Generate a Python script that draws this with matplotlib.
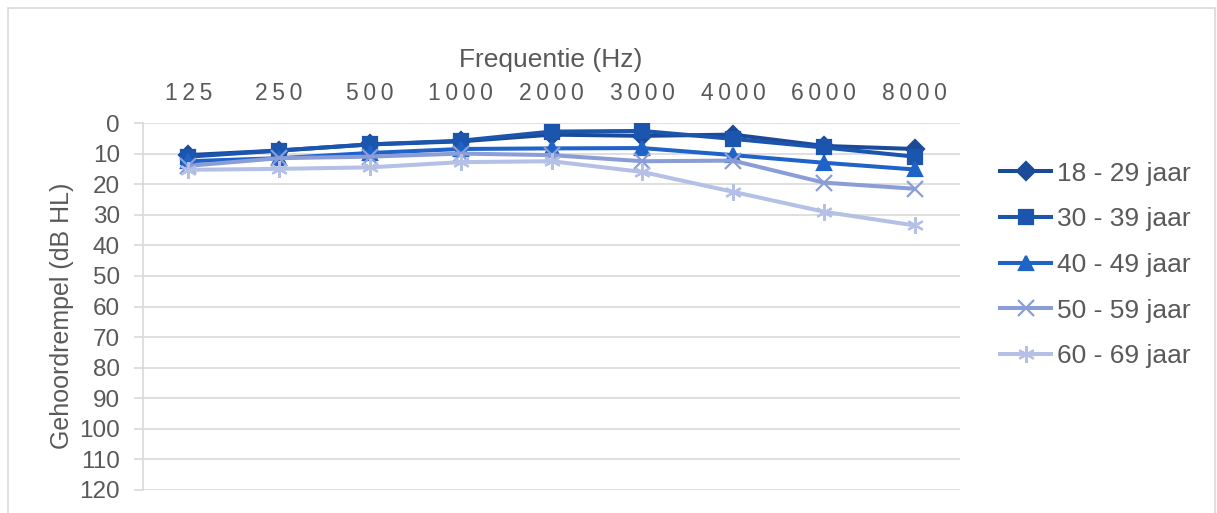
import numpy as np
import matplotlib
matplotlib.use('Agg')
import matplotlib.pyplot as plt
from matplotlib.patches import Rectangle

plt.rcParams['font.family'] = ['Liberation Sans', 'DejaVu Sans']

# Audiogram: mean hearing threshold per age group
frequencies = ['125', '250', '500', '1000', '2000', '3000', '4000', '6000', '8000']
age_groups = ['18 - 29 jaar', '30 - 39 jaar', '40 - 49 jaar', '50 - 59 jaar', '60 - 69 jaar']

thr_18_29 = [10.5, 9.0, 7.0, 6.0, 3.8, 4.2, 3.8, 7.5, 8.5]
thr_30_39 = [11.0, 9.0, 7.0, 5.8, 2.8, 2.6, 5.2, 8.0, 11.0]
thr_40_49 = [12.5, 11.5, 9.8, 8.5, 8.3, 8.2, 10.5, 13.0, 15.2]
thr_50_59 = [14.0, 11.5, 11.0, 10.0, 10.5, 12.5, 12.3, 19.5, 21.5]
thr_60_69 = [15.3, 15.0, 14.5, 12.8, 12.5, 16.0, 22.5, 29.0, 33.5]

series = [thr_18_29, thr_30_39, thr_40_49, thr_50_59, thr_60_69]
colors = ['#1a4a98', '#1c55ae', '#1f63c8', '#8a9dd6', '#b4c0e5']
markers = ['D', 's', '^', 'x', (6, 2, 0)]
msizes = [9.5, 10, 10.5, 11, 12]

TXT = '#595959'
GRID = '#d9d9d9'

fig = plt.figure(figsize=(12.17, 5.13), dpi=100)
ax = fig.add_axes([143 / 1217, 1 - 490 / 513, 817 / 1217, 367 / 513])

x = np.arange(len(frequencies))
for vals, label, col, mk, ms in zip(series, age_groups, colors, markers, msizes):
    ax.plot(x, vals, color=col, lw=2.9, marker=mk, markersize=ms,
            markeredgewidth=1.6, markerfacecolor=col, markeredgecolor=col,
            label=label, solid_joinstyle='round')

ax.set_xlim(-0.5, len(frequencies) - 0.5)
ax.set_ylim(120, 0)
ax.set_yticks(np.arange(0, 121, 10))
ax.yaxis.grid(True, color=GRID, lw=1.2)
ax.set_axisbelow(True)

# frequency labels on top, slightly letter-spaced
ax.xaxis.tick_top()
ax.set_xticks(x)
ax.set_xticklabels(['\u2009'.join(f) for f in frequencies], fontsize=16.5, color=TXT)
ax.tick_params(axis='x', length=0, pad=13)
ax.tick_params(axis='y', length=6.5, width=1.2, color=GRID, pad=10,
               labelsize=17.5, labelcolor=TXT)

for side in ['top', 'right', 'bottom']:
    ax.spines[side].set_visible(False)
ax.spines['left'].set_color(GRID)
ax.spines['left'].set_linewidth(1.2)

fig.text(551 / 1217, 1 - 60 / 513, 'Frequentie (Hz)', ha='center', va='center',
         fontsize=19, color=TXT)
fig.text(62 / 1217, 1 - 316 / 513, 'Gehoordrempel (dB HL)', ha='center', va='center',
         rotation=90, fontsize=18, color=TXT)

leg = fig.legend(loc='center left', bbox_to_anchor=(1000 / 1217, 1 - 265 / 513),
                 frameon=False, fontsize=19, handlelength=1.95, handletextpad=0.22,
                 labelspacing=0.82, borderpad=0, borderaxespad=0)
for t in leg.get_texts():
    t.set_color(TXT)

# outer chart border
fig.patches.append(Rectangle((8 / 1217, -0.1), 1207 / 1217, 1.1 - 8 / 513,
                             transform=fig.transFigure, fill=False,
                             edgecolor=GRID, lw=1.2))

fig.savefig('out.png', dpi=100)
